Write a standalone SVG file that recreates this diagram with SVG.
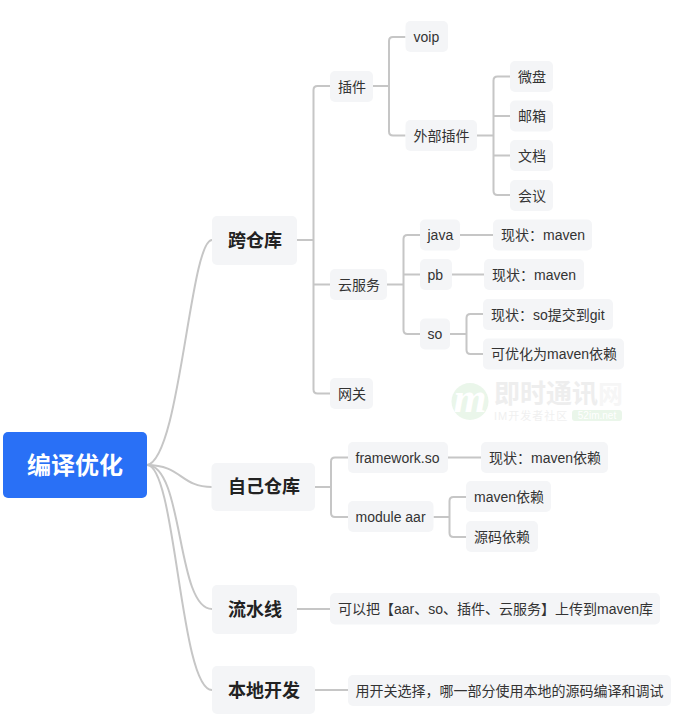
<svg xmlns="http://www.w3.org/2000/svg" width="673" height="714" viewBox="0 0 673 714">
<style>
text{font-family:"Liberation Sans","Noto Sans CJK SC",sans-serif;fill:#333;font-size:14px;dominant-baseline:central}
.b{fill:#f4f5f7}
.l1{font-size:18px;font-weight:700;fill:#222}
.root{font-size:24px;font-weight:700;fill:#fff}
#connectors path{fill:none;stroke:#c6c6c6;stroke-width:2}
</style>
<rect width="673" height="714" fill="#fff"/>
<g id="watermark">
<circle cx="470" cy="401.500" r="18.500" fill="#eaf6ea"/>
<text x="470" y="398" text-anchor="middle" style="font-family:'Liberation Serif',serif;font-size:42px;font-style:italic;font-weight:700;fill:#fff">m</text>
<text x="494" y="394" style="font-size:26px;font-weight:700;fill:#eeeeee">即时通讯</text>
<text x="598" y="394" style="font-size:25px;font-weight:700;fill:#f6f6f6">网</text>
<text x="494" y="416" style="font-size:11px;fill:#f0f0f0;letter-spacing:1px">IM开发者社区</text>
<rect x="572" y="410" width="50" height="11" rx="3" fill="#eaf6ea"/>
<text x="597" y="415.500" text-anchor="middle" style="font-size:10px;fill:#fff">52im.net</text>
</g>
<g id="connectors">
<path d="M147 465C180 460 190 240 212 240"/>
<path d="M147 465C182 465 180 487 212 487"/>
<path d="M147 465C184 465 176 609 212 609"/>
<path d="M147 465C176 465 180 690 212 690"/>
<path d="M297 240H313.500M330 86H317.500Q313.500 86 313.500 90V389.500Q313.500 393.500 317.500 393.500H330M313.500 284.500H330"/>
<path d="M373 86H389M405.500 37H393Q389 37 389 41V131.500Q389 135.500 393 135.500H405.500"/>
<path d="M477 135.500H493.500M510 76.500H497.500Q493.500 76.500 493.500 80.500V191Q493.500 195 497.500 195H510M493.500 116H510M493.500 155.500H510"/>
<path d="M387 284.500H403.500M420 235H407.500Q403.500 235 403.500 239V330Q403.500 334 407.500 334H420M403.500 274.500H420"/>
<path d="M460 235H493M452 274.500H484"/>
<path d="M450 334H466.500M483 314H470.500Q466.500 314 466.500 318V350Q466.500 354 470.500 354H483"/>
<path d="M315 487H331M348 457.500H335Q331 457.500 331 461.500V513Q331 517 335 517H348"/>
<path d="M448 457.500H481"/>
<path d="M433.500 517H449.500M466 497H453.500Q449.500 497 449.500 501V533Q449.500 537 453.500 537H466"/>
<path d="M297 609H330M315 690H348"/>
</g>
<g id="root"><rect x="3" y="432" width="144" height="66" rx="5" fill="#2970f6"/><text class="root" x="75" y="465" text-anchor="middle">编译优化</text></g>
<g id="n1"><rect class="b" x="212" y="216" width="85" height="49" rx="5"/><text class="l1" x="228" y="240.500">跨仓库</text></g>
<g id="n2"><rect class="b" x="211.500" y="463" width="103.500" height="48" rx="5"/><text class="l1" x="228" y="487">自己仓库</text></g>
<g id="n3"><rect class="b" x="212" y="585" width="85" height="49" rx="5"/><text class="l1" x="228" y="609.500">流水线</text></g>
<g id="n4"><rect class="b" x="212" y="666" width="103" height="48" rx="5"/><text class="l1" x="228" y="690.500">本地开发</text></g>
<g id="n5"><rect class="b" x="330" y="71" width="43" height="31" rx="5"/><text x="338" y="86.500">插件</text></g>
<g id="n6"><rect class="b" x="405.500" y="21" width="42.500" height="31" rx="5"/><text x="413.500" y="36.500">voip</text></g>
<g id="n7"><rect class="b" x="405.500" y="120" width="71.500" height="31" rx="5"/><text x="413.500" y="135.500">外部插件</text></g>
<g id="n8"><rect class="b" x="510" y="61" width="43" height="31" rx="5"/><text x="518" y="76.500">微盘</text></g>
<g id="n9"><rect class="b" x="510" y="100.500" width="43" height="31" rx="5"/><text x="518" y="116">邮箱</text></g>
<g id="n10"><rect class="b" x="510" y="140" width="43" height="31" rx="5"/><text x="518" y="155.500">文档</text></g>
<g id="n11"><rect class="b" x="510" y="180" width="43" height="31" rx="5"/><text x="518" y="195.500">会议</text></g>
<g id="n12"><rect class="b" x="330" y="269" width="57" height="31" rx="5"/><text x="338" y="284.500">云服务</text></g>
<g id="n13"><rect class="b" x="420" y="219.500" width="40" height="31" rx="5"/><text x="427.500" y="235">java</text></g>
<g id="n14"><rect class="b" x="493" y="219.500" width="99" height="31" rx="5"/><text x="501" y="235">现状：maven</text></g>
<g id="n15"><rect class="b" x="420" y="259" width="32" height="31" rx="5"/><text x="427.500" y="274.500">pb</text></g>
<g id="n16"><rect class="b" x="484" y="259" width="100" height="31" rx="5"/><text x="492" y="274.500">现状：maven</text></g>
<g id="n17"><rect class="b" x="420" y="318.500" width="30" height="31" rx="5"/><text x="427.500" y="334">so</text></g>
<g id="n18"><rect class="b" x="483" y="299" width="130" height="31" rx="5"/><text x="491" y="314.500">现状：so提交到git</text></g>
<g id="n19"><rect class="b" x="483" y="338.500" width="141" height="31" rx="5"/><text x="491" y="354">可优化为maven依赖</text></g>
<g id="n20"><rect class="b" x="330" y="378" width="43" height="31" rx="5"/><text x="338" y="393.500">网关</text></g>
<g id="n21"><rect class="b" x="348" y="442" width="100" height="31" rx="5"/><text x="355.500" y="457.500">framework.so</text></g>
<g id="n22"><rect class="b" x="481" y="442" width="127" height="31" rx="5"/><text x="489" y="457.500">现状：maven依赖</text></g>
<g id="n23"><rect class="b" x="348" y="501" width="85.500" height="31" rx="5"/><text x="355.500" y="517">module aar</text></g>
<g id="n24"><rect class="b" x="466" y="481" width="85" height="31" rx="5"/><text x="474" y="497">maven依赖</text></g>
<g id="n25"><rect class="b" x="466" y="521" width="72" height="31" rx="5"/><text x="474" y="537">源码依赖</text></g>
<g id="n26"><rect class="b" x="330" y="593" width="330" height="31.500" rx="5"/><text x="338" y="609">可以把【aar、so、插件、云服务】上传到maven库</text></g>
<g id="n27"><rect class="b" x="348" y="675" width="323" height="31" rx="5"/><text x="355.500" y="690.500">用开关选择，哪一部分使用本地的源码编译和调试</text></g>
</svg>
